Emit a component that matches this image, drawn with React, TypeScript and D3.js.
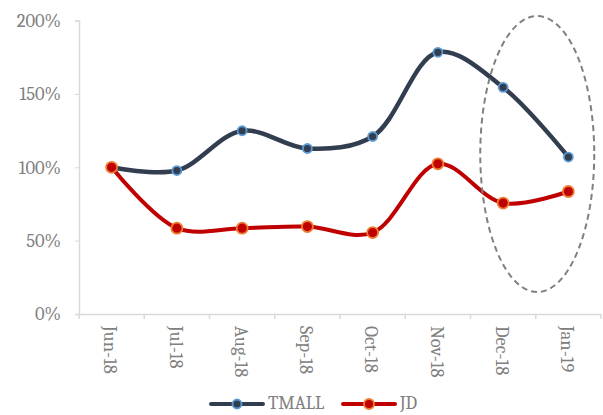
import React, { useEffect, useRef } from "react";
import * as d3 from "d3";

const months = ["Jun-18", "Jul-18", "Aug-18", "Sep-18", "Oct-18", "Nov-18", "Dec-18", "Jan-19"];
const tmall = [1.0, 0.978, 1.249, 1.128, 1.21, 1.784, 1.545, 1.07];
const jd = [1.0, 0.585, 0.585, 0.596, 0.555, 1.024, 0.756, 0.835];
const yTicks = [0, 0.5, 1, 1.5, 2];

const font = "Cambria, 'Liberation Serif', serif";
const fontSize = 18.5;

const App = () => {
  const svgRef = useRef<SVGSVGElement>(null);

  useEffect(() => {
    const svg = d3.select(svgRef.current);
    svg.selectAll("*").remove();

    const x = d3.scaleBand<string>().domain(months).range([79, 601]);
    const y = d3.scaleLinear().domain([0, 2]).range([314, 20.6]);
    const cx = (i: number) => (x(months[i]) as number) + x.bandwidth() / 2;

    // y axis
    const yAxis = svg.append("g").attr("transform", "translate(79,0)")
      .call(d3.axisLeft(y).tickValues(yTicks).tickFormat(d3.format(".0%")).tickSize(4).tickPadding(14));
    yAxis.select(".domain").attr("stroke", "#d9d9d9").attr("stroke-width", 1.5);
    yAxis.selectAll(".tick line").attr("stroke", "#d9d9d9");
    yAxis.selectAll(".tick text").attr("fill", "#808080").attr("font-family", font).attr("font-size", fontSize);

    // x axis
    const xAxis = svg.append("g").attr("transform", "translate(0,314)")
      .call(d3.axisBottom(x).tickSize(0).tickFormat(() => ""));
    xAxis.select(".domain").attr("stroke", "#d9d9d9").attr("stroke-width", 1.5);
    xAxis.selectAll(".tick").remove();
    const edges = months.map((m) => x(m) as number).concat([601]);
    svg.append("g").selectAll("line").data(edges).join("line")
      .attr("x1", (d) => d).attr("x2", (d) => d)
      .attr("y1", 314).attr("y2", 319)
      .attr("stroke", "#d9d9d9").attr("stroke-width", 1.5);

    svg.append("g").selectAll("text").data(months).join("text")
      .attr("transform", (d, i) => "translate(" + (cx(i) - 3) + ",326) rotate(90)")
      .attr("dominant-baseline", "middle")
      .attr("fill", "#808080")
      .attr("font-family", font)
      .attr("font-size", fontSize)
      .text((d) => d);

    const line = d3.line<number>()
      .x((d, i) => cx(i))
      .y((d) => y(d))
      .curve(d3.curveCatmullRom.alpha(0.5));

    // TMALL
    svg.append("path").datum(tmall)
      .attr("fill", "none").attr("stroke", "#323e50").attr("stroke-width", 4.5)
      .attr("stroke-linecap", "round").attr("d", line);
    svg.append("g").selectAll("circle").data(tmall).join("circle")
      .attr("cx", (d, i) => cx(i)).attr("cy", (d) => y(d)).attr("r", 4.5)
      .attr("fill", "#323e50").attr("stroke", "#5b9bd5").attr("stroke-width", 1.8);

    // JD
    svg.append("path").datum(jd)
      .attr("fill", "none").attr("stroke", "#c00000").attr("stroke-width", 4)
      .attr("stroke-linecap", "round").attr("d", line);
    svg.append("g").selectAll("circle").data(jd).join("circle")
      .attr("cx", (d, i) => cx(i)).attr("cy", (d) => y(d)).attr("r", 5.5)
      .attr("fill", "#c00000").attr("stroke", "#ed7d31").attr("stroke-width", 1.8);

    // dashed ellipse around last two months
    svg.append("ellipse")
      .attr("cx", (cx(6) + cx(7)) / 2 + 1.5).attr("cy", 154)
      .attr("rx", 57).attr("ry", 138)
      .attr("fill", "none").attr("stroke", "#808080").attr("stroke-width", 2)
      .attr("stroke-dasharray", "6,4");

    // legend
    const legend = [
      { name: "TMALL", color: "#323e50", edge: "#5b9bd5", r: 4.5, x: 211 },
      { name: "JD", color: "#c00000", edge: "#ed7d31", r: 5, x: 343 },
    ];
    const lg = svg.append("g").selectAll("g").data(legend).join("g")
      .attr("transform", (d) => "translate(" + d.x + ",404)");
    lg.append("line").attr("x1", 0).attr("x2", 52).attr("y1", 0).attr("y2", 0)
      .attr("stroke", (d) => d.color).attr("stroke-width", 4).attr("stroke-linecap", "round");
    lg.append("circle").attr("cx", 26).attr("cy", 0).attr("r", (d) => d.r)
      .attr("fill", (d) => d.color).attr("stroke", (d) => d.edge).attr("stroke-width", 1.8);
    lg.append("text").attr("x", 57).attr("y", 1).attr("dominant-baseline", "middle")
      .attr("fill", "#808080").attr("font-family", font).attr("font-size", fontSize)
      .text((d) => d.name);
  }, []);

  return (
    <svg ref={svgRef} width={603} height={415}
      style={{ position: "absolute", left: 0, top: 0, background: "#fff" }} />
  );
};

export default App;
